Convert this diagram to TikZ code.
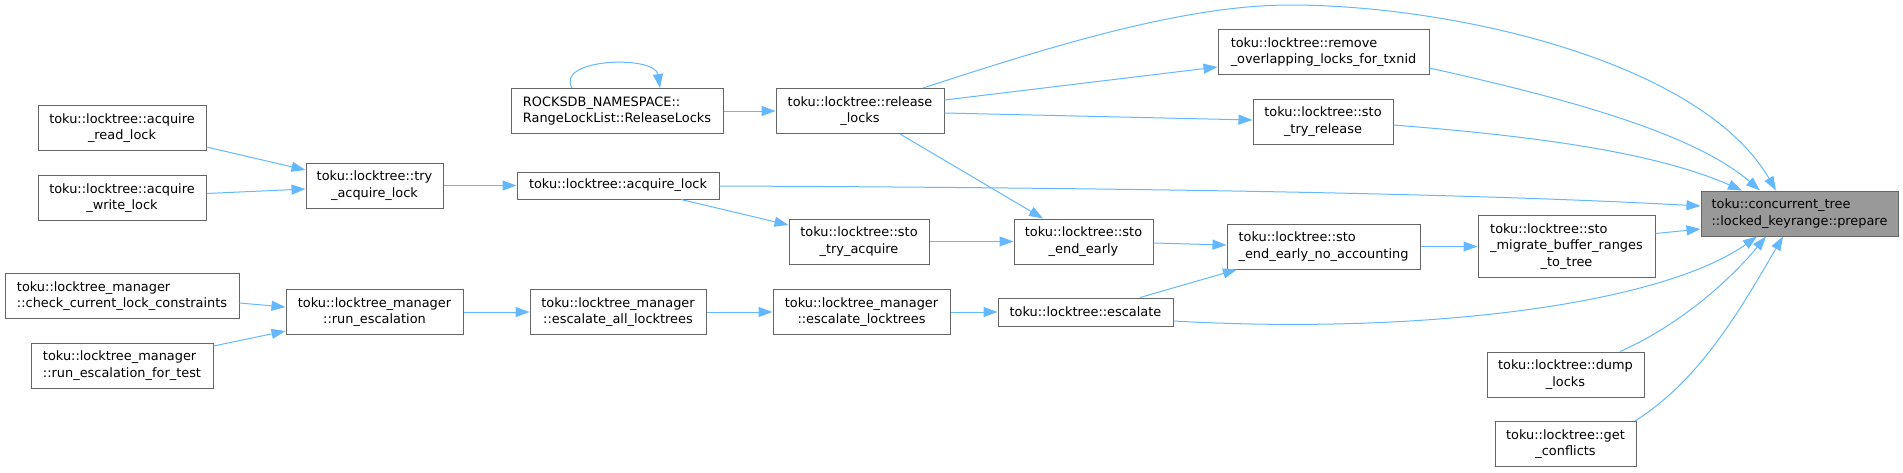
\documentclass[tikz,border=0pt]{standalone}
\usepackage{fontspec}
\setmainfont{DejaVu Sans}
\usetikzlibrary{arrows.meta,positioning,calc}
\definecolor{DoxyEdge}{HTML}{63B8FF}
\definecolor{DoxyLine}{HTML}{666666}
\definecolor{DoxyFocus}{HTML}{999999}

\begin{document}
\begin{tikzpicture}[
  x=1pt, y=-1pt,
  every node/.style={font=\fontsize{12.9}{16.7}\selectfont},
  func/.style={draw=DoxyLine, fill=white, line width=1pt, inner sep=0pt, minimum height=45pt, align=center},
  funcl/.style={func, align=left},
  focus/.style={func, fill=DoxyFocus, align=left},
  call/.style={-{Triangle[length=14pt, width=10pt]}, line width=1pt, color=DoxyEdge}
]
\useasboundingbox (0,0) rectangle (1903,472);

% callers on the far left
\node[func, minimum width=168pt] (readlock) at (122,128) {toku::locktree::acquire\\\_read\_lock};
\node[func, minimum width=168pt] (writelock) at (122,198) {toku::locktree::acquire\\\_write\_lock};
\node[funcl, minimum width=234pt] (checklc) at (122,296) {toku::locktree\_manager\\::check\_current\_lock\_constraints};
\node[funcl, minimum width=182pt] (runesctest) at (122,365.5) {toku::locktree\_manager\\::run\_escalation\_for\_test};

\node[func, minimum width=137pt] (tryacq) at (374.5,185.5) {toku::locktree::try\\\_acquire\_lock};
\node[func, minimum width=177pt] (runesc) at (374.5,312) {toku::locktree\_manager\\::run\_escalation};

\node[funcl, minimum width=212pt] (rellocklist) at (617,111) {ROCKSDB\_NAMESPACE::\\RangeLockList::ReleaseLocks};
\node[func, minimum width=168pt, right=52pt of rellocklist] (releaselocks) {toku::locktree::release\\\_locks};
\node[func, minimum width=202pt, minimum height=27pt, right=73pt of tryacq] (acqlock) {toku::locktree::acquire\_lock};
\node[func, minimum width=176pt, right=66pt of runesc] (escall) {toku::locktree\_manager\\::escalate\_all\_locktrees};
\node[func, minimum width=177pt, right=66pt of escall] (esclt) {toku::locktree\_manager\\::escalate\_locktrees};
\node[func, minimum width=175pt, minimum height=28pt, right=47pt of esclt] (escalate) {toku::locktree::escalate};

\node[func, minimum width=140pt] (stotryacq) at (859,241.5) {toku::locktree::sto\\\_try\_acquire};
\node[func, minimum width=139pt, right=84pt of stotryacq] (stoendearly) {toku::locktree::sto\\\_end\_early};

\node[funcl, minimum width=211pt] (removeov) at (1323.5,52) {toku::locktree::remove\\\_overlapping\_locks\_for\_txnid};
\node[func, minimum width=140pt] (stotryrel) at (1323,121.5) {toku::locktree::sto\\\_try\_release};
\node[funcl, minimum width=193pt] (noacct) at (1323.5,246.5) {toku::locktree::sto\\\_end\_early\_no\_accounting};

\node[func, minimum width=177pt, minimum height=62pt, right=57pt of noacct] (migrate) {\begin{tabular}{@{}l@{}}toku::locktree::sto\\\_migrate\_buffer\_ranges\\\multicolumn{1}{@{}c@{}}{\_to\_tree}\end{tabular}};
\node[func, minimum width=157pt] (dumplocks) at (1565.5,374.5) {toku::locktree::dump\\\_locks};
\node[func, minimum width=141pt] (getconf) at (1565.5,444) {toku::locktree::get\\\_conflicts};

% the function whose callers are shown
\node[focus, minimum width=197pt] (prepare) at (1799.5,213.5) {toku::concurrent\_tree\\::locked\_keyrange::prepare};

\coordinate (toparc) at (1290,5);

\draw[call] ($(readlock.east)+(0,19)$) -- ($(tryacq.west)+(0,-15.5)$);
\draw[call] ($(writelock.east)+(0,-4.5)$) -- ($(tryacq.west)+(0,3.5)$);
\draw[call] (tryacq) -- (acqlock);
\draw[call] ($(checklc.east)+(0,7)$) -- ($(runesc.west)+(0,-5)$);
\draw[call] ($(runesctest.east)+(0,-19.5)$) -- ($(runesc.west)+(0,19)$);
\draw[call] (runesc) -- (escall);
\draw[call] (escall) -- (esclt);
\draw[call] (esclt) -- (escalate);
\draw[call] ($(escalate.north)+(54.5,0)$) -- ($(noacct.south)+(-86.5,0)$);
\draw[call] ($(escalate.east)+(0,9)$) .. controls (1420,335) and (1660,305) .. ($(prepare.south)+(-42.5,0)$);

\draw[call] ($(rellocklist.north)+(-45,0)$) .. controls (555,58) and (655,55) .. ($(rellocklist.north)+(43,0)$);
\draw[call] (rellocklist) -- (releaselocks);
\draw[call] ($(releaselocks.north)+(63,0)$) .. controls (1040,50) and (1180,5) .. (toparc) .. controls (1450,5) and (1700,60) .. ($(prepare.north)+(-23.5,0)$);
\draw[call] ($(releaselocks.east)+(0,-11)$) -- ($(removeov.west)+(0,15)$);
\draw[call] ($(releaselocks.east)+(0,2)$) -- ($(stotryrel.west)+(0,-1.5)$);
\draw[call] ($(releaselocks.south)+(40,0)$) -- ($(stoendearly.north)+(-40.5,0)$);

\draw[call] ($(acqlock.east)+(0,0.5)$) .. controls (1200,188) and (1500,195) .. ($(prepare.west)+(0,-7.5)$);
\draw[call] ($(acqlock.south)+(63,0)$) -- ($(stotryacq.west)+(0,-16.5)$);
\draw[call] (stotryacq) -- (stoendearly);
\draw[call] ($(stoendearly.east)+(0,1.5)$) -- ($(noacct.west)+(0,-1.5)$);
\draw[call] (noacct) -- (migrate);
\draw[call] ($(migrate.east)+(0,-13)$) -- ($(prepare.west)+(0,15.5)$);

\draw[call] ($(removeov.east)+(0,16)$) .. controls (1550,95) and (1690,130) .. ($(prepare.north)+(-39.5,0)$);
\draw[call] ($(stotryrel.east)+(0,3.5)$) .. controls (1520,135) and (1650,150) .. ($(prepare.north)+(-57.5,0)$);
\draw[call] ($(dumplocks.north)+(54.5,0)$) .. controls (1680,325) and (1730,280) .. ($(prepare.south)+(-33.5,0)$);
\draw[call] ($(getconf.north)+(69.5,0)$) .. controls (1700,380) and (1740,310) .. ($(prepare.south)+(-16.5,0)$);
\end{tikzpicture}
\end{document}
